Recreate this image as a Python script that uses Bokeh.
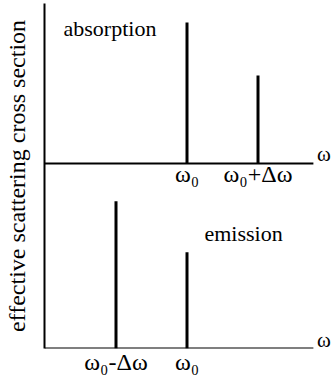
from bokeh.plotting import figure
from bokeh.models import Range1d, FixedTicker, ColumnDataSource
from bokeh.core.properties import value
from bokeh.embed import file_html
from bokeh.resources import INLINE

# ---- data (ω0 = 0, Δω = 1 on the frequency axis; heights in arbitrary units)
absorption_x = [0, 1]
absorption_h = [0.953, 0.595]
absorption_ticks = ["ω₀", "ω₀+Δω"]

emission_x = [-1, 0]
emission_h = [0.995, 0.65]
emission_ticks = ["ω₀-Δω", "ω₀"]

y_label = "effective scattering cross section"
panel_titles = ["absorption", "emission"]
axis_symbol = "ω"

# ---- layout constants
FONT = "Liberation Serif"
X0, X1 = -2.007, 2.035
AXIS_END = 1.78
TOP_BASE = 1.25
BOT_BASE = 0.0
Y1 = 2.331

p = figure(width=331, height=380, output_backend="svg", toolbar_location=None,
           x_range=Range1d(X0, X1), y_range=Range1d(0, Y1),
           min_border_left=44, min_border_right=0, min_border_top=3,
           min_border_bottom=32, background_fill_color="white",
           border_fill_color="white")
p.outline_line_color = None
p.grid.visible = False

# left axis
ya = p.yaxis[0]
ya.ticker = FixedTicker(ticks=[])
ya.axis_line_width = 2
ya.axis_line_color = "black"
ya.major_tick_line_color = None
ya.minor_tick_line_color = None
ya.major_tick_out = 0
ya.major_tick_in = 0
ya.axis_label = y_label
ya.axis_label_text_font = FONT
ya.axis_label_text_font_style = "normal"
ya.axis_label_text_font_size = "24px"
ya.axis_label_text_color = "black"
ya.axis_label_standoff = 15

# bottom axis (labels only)
xa = p.xaxis[0]
xa.ticker = FixedTicker(ticks=emission_x)
xa.major_label_overrides = {x: t for x, t in zip(emission_x, emission_ticks)}
xa.axis_line_color = None
xa.major_tick_line_color = None
xa.minor_tick_line_color = None
xa.major_tick_out = 0
xa.major_tick_in = 0
xa.major_label_standoff = 0
xa.major_label_text_font = FONT
xa.major_label_text_font_size = "24px"
xa.major_label_text_color = "black"

# baselines
p.segment(x0=[X0, X0], y0=[TOP_BASE, BOT_BASE], x1=[AXIS_END, AXIS_END],
          y1=[TOP_BASE, BOT_BASE], line_color="black", line_width=2)

# peaks
src_a = ColumnDataSource(dict(x=absorption_x,
                              y0=[TOP_BASE] * len(absorption_x),
                              y1=[TOP_BASE + h for h in absorption_h],
                              t=absorption_ticks))
src_e = ColumnDataSource(dict(x=emission_x,
                              y0=[BOT_BASE] * len(emission_x),
                              y1=[BOT_BASE + h for h in emission_h]))
p.segment(x0="x", y0="y0", x1="x", y1="y1", source=src_a,
          line_color="black", line_width=3, line_cap="butt")
p.segment(x0="x", y0="y0", x1="x", y1="y1", source=src_e,
          line_color="black", line_width=3, line_cap="butt")

# tick labels for upper panel
p.text(x="x", y="y0", text="t", source=src_a, text_font=value(FONT),
       text_font_size="24px", text_align="center", text_baseline="top",
       y_offset=-2, text_color="black")

# ω at axis ends
p.text(x=[AXIS_END + 0.05, AXIS_END + 0.05], y=[TOP_BASE, BOT_BASE],
       text=[axis_symbol, axis_symbol], text_font=value(FONT),
       text_font_size="21px", text_align="left", text_baseline="alphabetic",
       y_offset=-9, text_color="black")

# panel titles
p.text(x=[-1.739, 0.246], y=[2.164, 0.777], text=panel_titles,
       text_font=value(FONT), text_font_size="22px", text_align="left",
       text_baseline="alphabetic", text_color="black")

open("out.html", "w").write(file_html(p, INLINE))
